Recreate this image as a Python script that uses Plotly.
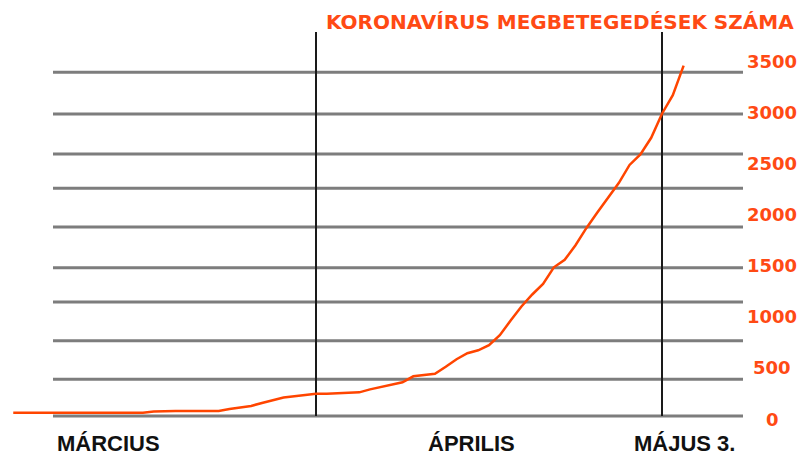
import pandas as pd
import plotly.graph_objects as go

# ---- data ----
dates = pd.date_range("2020-03-04", "2020-05-05", freq="D")
cases = [62, 62, 62, 62, 62, 62, 62, 62, 62, 62, 62, 62, 62,
         74, 79, 79, 79, 79, 79, 79,
         98, 113, 128, 157, 187, 211, 223, 236,
         246, 248, 250, 252, 261, 290, 315, 334, 359, 418, 430, 442,
         511, 585, 644, 673, 723, 821, 964, 1101, 1219, 1322,
         1485, 1558, 1701, 1868, 2020, 2163, 2310, 2487, 2591, 2753,
         2989, 3171, 3460]

tick_values = [0, 500, 1000, 1500, 2000, 2500, 3000, 3500]
tick_labels = ["0", "500", "1000", "1500", "2000", "2500", "3000", "3500"]

# decorative horizontal rules (irregularly spaced in the original)
grid_levels = [30, 390, 765, 1145, 1480, 1880, 2260, 2595, 2985, 3395]

marker_dates = ["2020-04-01", "2020-05-03"]
month_labels = ["MÁRCIUS", "ÁPRILIS", "MÁJUS 3."]
title_text = "KORONAVÍRUS MEGBETEGEDÉSEK SZÁMA"

# ---- styling / layout ----
ORANGE = "#ff4500"
TEXT_ORANGE = "#ff4a14"
W, H = 811, 464
PAGE_OFF = 8                     # browser body margin
L, R, T, B = 10, 745, 30, 430    # plot area box in page pixels
px_per_day = 346 / 32
apr1 = pd.Timestamp("2020-04-01")
x_start = apr1 - pd.Timedelta(days=(316 - L) / px_per_day)
x_end = apr1 + pd.Timedelta(days=(R - 316) / px_per_day)
px_per_unit = (419 - 61.5) / 3500
y_low = (419 - B) / px_per_unit
y_high = (419 - T) / px_per_unit

fig = go.Figure()
fig.add_trace(go.Scatter(x=dates, y=cases, mode="lines",
                         line=dict(color=ORANGE, width=2.5),
                         hoverinfo="x+y", showlegend=False))

shapes = []
for g in grid_levels:
    shapes.append(dict(type="line", xref="paper", yref="y",
                       x0=(53 - L) / (R - L), x1=(743 - L) / (R - L), y0=g, y1=g,
                       line=dict(color="#7d7d7d", width=3), layer="below"))
for d in marker_dates:
    shapes.append(dict(type="line", xref="x", yref="y", x0=d, x1=d,
                       y0=grid_levels[0], y1=(419 - 32) / px_per_unit,
                       line=dict(color="#1a1a1a", width=2), layer="below"))

annotations = []
for v, t in zip(tick_values, tick_labels):
    annotations.append(dict(text=t, xref="paper", yref="y",
                            x=(772 - L) / (R - L), y=v, xanchor="center", yanchor="middle",
                            showarrow=False,
                            font=dict(family="DejaVu Sans", size=18, color=TEXT_ORANGE, weight=700)))
label_px = [55, 426, 632]
for t, px in zip(month_labels, label_px):
    annotations.append(dict(text=t, xref="paper", yref="paper",
                            x=(px - L) / (R - L), y=(B - 443.5) / (B - T),
                            xanchor="left", yanchor="middle", showarrow=False,
                            font=dict(family="Liberation Sans, Arial", size=22, color="#111111", weight=700)))
annotations.append(dict(text=title_text, xref="paper", yref="paper",
                        x=(796 - L) / (R - L), y=(B - 21.5) / (B - T),
                        xanchor="right", yanchor="middle", showarrow=False,
                        font=dict(family="DejaVu Sans", size=20, color=TEXT_ORANGE, weight=700)))

fig.update_layout(
    width=W, height=H,
    margin=dict(l=L - PAGE_OFF, r=W - (R - PAGE_OFF), t=T - PAGE_OFF, b=H - (B - PAGE_OFF)),
    paper_bgcolor="white", plot_bgcolor="white",
    xaxis=dict(visible=False, range=[x_start, x_end]),
    yaxis=dict(visible=False, range=[y_low, y_high]),
    shapes=shapes, annotations=annotations,
)

fig.write_html("out.html")
